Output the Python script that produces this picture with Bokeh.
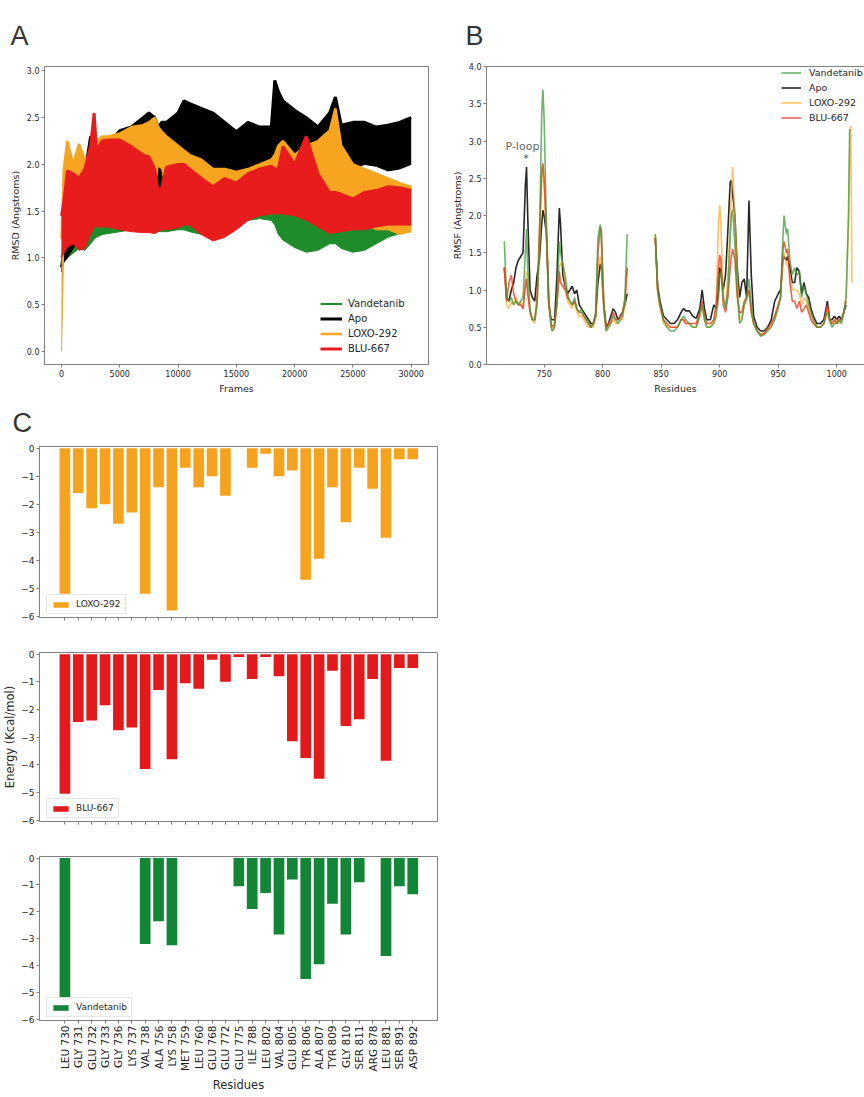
import numpy as np
from bokeh.plotting import figure
from bokeh.models import (Range1d, LinearAxis, FixedTicker, PrintfTickFormatter,
                          Legend, LegendItem, Label)
from bokeh.layouts import column, row
from bokeh.embed import file_html
from bokeh.resources import INLINE

# ---------------- data: panel A (RMSD envelope, min/max per frame window) ----------------
frames = [0, 200, 500, 1000, 1500, 2000, 2500, 2800, 3000, 3500,
          4000, 5000, 6000, 7000, 7500, 8000, 8300, 8600, 9000, 10000,
          10500, 11000, 12000, 13000, 14000, 15000, 16000, 17000, 18000, 18300,
          18600, 19000, 20000, 21000, 22000, 23000, 23500, 24000, 25000, 26000,
          27000, 28000, 29000, 30000]

apo_hi = [0.9, 1.05, 1.15, 1.3, 1.45, 1.9, 2.3, 2.2, 2.2, 2.25,
          2.22, 2.36, 2.4, 2.5, 2.55, 2.5, 2.4, 2.45, 2.45, 2.55,
          2.68, 2.65, 2.6, 2.55, 2.45, 2.35, 2.45, 2.4, 2.4, 2.9,
          2.78, 2.68, 2.58, 2.5, 2.4, 2.55, 2.72, 2.42, 2.45, 2.45,
          2.4, 2.42, 2.45, 2.5]
apo_lo = [0.85, 0.95, 1.0, 1.1, 1.2, 1.3, 1.5, 1.6, 1.7, 1.75,
          1.8, 1.85, 1.9, 1.9, 1.85, 1.75, 1.68, 1.8, 1.95, 2.0,
          2.0, 1.95, 2.0, 1.95, 1.93, 1.93, 1.95, 1.97, 2.0, 2.1,
          2.12, 2.15, 2.1, 2.0, 1.95, 2.0, 2.05, 2.0, 1.95, 2.0,
          1.98, 1.93, 1.95, 2.0]

loxo_hi = [1.2, 1.95, 2.25, 2.0, 2.22, 2.05, 2.1, 2.2, 2.25, 2.3,
           2.3, 2.33, 2.4, 2.42, 2.45, 2.5, 2.4, 2.35, 2.3, 2.2,
           2.15, 2.1, 2.05, 1.95, 1.95, 1.92, 1.95, 2.0, 2.05, 2.1,
           2.2, 2.25, 2.1, 2.2, 2.25, 2.36, 2.6, 2.2, 2.0, 1.95,
           1.9, 1.85, 1.8, 1.76]
loxo_lo = [0.0, 1.15, 1.2, 1.25, 1.3, 1.35, 1.45, 1.5, 1.5, 1.55,
           1.6, 1.6, 1.65, 1.65, 1.65, 1.7, 1.98, 1.95, 1.65, 1.6,
           1.6, 1.55, 1.5, 1.45, 1.45, 1.45, 1.5, 1.55, 1.6, 1.6,
           1.6, 1.55, 1.45, 1.5, 1.55, 1.55, 1.6, 1.5, 1.4, 1.35,
           1.3, 1.3, 1.25, 1.28]

blu_hi = [1.45, 1.6, 1.93, 1.9, 1.85, 1.95, 2.2, 2.55, 2.15, 2.25,
          2.26, 2.26, 2.19, 2.1, 2.08, 1.95, 1.7, 1.75, 1.97, 2.0,
          2.0, 1.95, 1.85, 1.76, 1.85, 1.8, 1.9, 1.95, 1.98, 1.95,
          1.95, 2.19, 2.0, 2.3, 1.9, 1.7, 1.7, 1.68, 1.63, 1.7,
          1.72, 1.76, 1.75, 1.72]
blu_lo = [1.0, 1.05, 1.11, 1.15, 1.08, 1.1, 1.25, 1.33, 1.33, 1.33,
          1.33, 1.3, 1.28, 1.27, 1.27, 1.26, 1.28, 1.3, 1.3, 1.32,
          1.35, 1.35, 1.25, 1.18, 1.22, 1.3, 1.4, 1.45, 1.47, 1.47,
          1.47, 1.47, 1.45, 1.4, 1.33, 1.26, 1.27, 1.28, 1.3, 1.3,
          1.33, 1.35, 1.35, 1.35]

vand_hi = [1.0, 1.15, 1.2, 1.25, 1.3, 1.4, 1.47, 1.48, 1.5, 1.5,
           1.52, 1.55, 1.58, 1.6, 1.6, 1.6, 1.6, 1.6, 1.6, 1.6,
           1.6, 1.6, 1.6, 1.62, 1.65, 1.68, 1.7, 1.7, 1.68, 1.65,
           1.6, 1.55, 1.5, 1.45, 1.45, 1.68, 1.6, 1.55, 1.45, 1.45,
           1.5, 1.55, 1.6, 1.75]
vand_lo = [0.88, 0.95, 1.0, 1.05, 1.1, 1.08, 1.15, 1.2, 1.22, 1.25,
           1.26, 1.28, 1.3, 1.3, 1.3, 1.28, 1.28, 1.28, 1.28, 1.3,
           1.3, 1.28, 1.25, 1.25, 1.28, 1.35, 1.4, 1.42, 1.4, 1.35,
           1.25, 1.19, 1.11, 1.06, 1.08, 1.15, 1.15, 1.1, 1.06, 1.08,
           1.15, 1.22, 1.26, 1.3]

# ---------------- data: panel B (RMSF per residue) ----------------
res1 = [716, 718, 720, 722, 724, 726, 728, 730, 732, 734,
        735, 736, 738, 740, 742, 744, 746, 748, 749, 750,
        752, 754, 756, 757, 759, 761, 763, 764, 766, 768,
        770, 772, 774, 776, 778, 780, 782, 784, 786, 788,
        790, 792, 794, 796, 798, 799, 801, 803, 805, 807,
        809, 811, 813, 815, 817, 819, 821]
res2 = [845, 847, 849, 852, 855, 858, 861, 864, 867, 869,
        871, 874, 877, 880, 883, 885, 887, 889, 892, 895,
        897, 899, 900, 901, 903, 905, 907, 909, 910, 911,
        913, 915, 917, 919, 921, 923, 925, 927, 929, 932,
        935, 938, 941, 944, 947, 950, 952, 954, 955, 957,
        958, 960, 962, 964, 966, 968, 970, 972, 974, 976,
        978, 980, 983, 986, 989, 992, 994, 996, 998, 1000,
        1002, 1004, 1006, 1008, 1010, 1011, 1012, 1013]
nan = float("nan")

vand_rmsf1 = [1.65, 0.9, 0.85, 0.9, 0.8, 0.85, 0.8, 0.85, 0.9, 1.5,
              1.82, 1.3, 0.75, 0.6, 0.6, 0.8, 1.6, 3.4, 3.69, 3.3,
              1.9, 0.9, 0.5, 0.45, 0.5, 0.9, 1.65, 1.5, 1.35, 1.2,
              0.95, 0.85, 0.8, 0.9, 0.75, 0.7, 0.75, 0.65, 0.6, 0.55,
              0.5, 0.55, 0.7, 1.7, 1.88, 1.6, 0.8, 0.45, 0.5, 0.55,
              0.65, 0.6, 0.55, 0.6, 0.65, 0.9, 1.75]
apo_rmsf1 = [1.3, 0.9, 0.85, 1.0, 1.1, 1.3, 1.4, 1.45, 1.5, 2.4,
             2.65, 2.0, 1.0, 0.9, 0.85, 1.2, 1.4, 1.9, 2.07, 2.0,
             1.75, 0.8, 0.6, 0.6, 0.6, 1.2, 2.1, 1.9, 1.2, 1.05,
             0.95, 1.0, 1.05, 0.95, 1.0, 0.8, 0.75, 0.7, 0.65, 0.6,
             0.55, 0.55, 0.65, 1.1, 1.35, 1.3, 0.8, 0.5, 0.55, 0.65,
             0.75, 0.7, 0.6, 0.65, 0.7, 0.8, 0.95]
loxo_rmsf1 = [1.3, 0.8, 0.75, 0.85, 0.8, 0.9, 0.8, 0.85, 0.75, 1.1,
              1.25, 1.0, 0.7, 0.6, 0.55, 0.8, 1.5, 2.5, 2.65, 2.4,
              1.7, 0.8, 0.5, 0.45, 0.5, 0.8, 1.3, 1.35, 1.4, 1.1,
              0.85, 0.8, 0.75, 0.85, 0.7, 0.65, 0.65, 0.6, 0.55, 0.5,
              0.5, 0.5, 0.6, 1.3, 1.45, 1.3, 0.7, 0.45, 0.5, 0.55,
              0.6, 0.55, 0.55, 0.6, 0.6, 0.8, 1.3]
blu_rmsf1 = [1.3, 0.85, 1.1, 1.2, 0.95, 0.85, 0.8, 0.8, 0.75, 1.05,
             1.15, 0.95, 0.7, 0.6, 0.6, 0.9, 1.8, 2.6, 2.7, 2.5,
             1.8, 0.85, 0.55, 0.5, 0.55, 0.8, 1.25, 1.1, 1.05, 1.0,
             0.9, 0.85, 0.8, 0.85, 0.75, 0.7, 0.7, 0.65, 0.6, 0.55,
             0.5, 0.55, 0.65, 1.5, 1.85, 1.8, 0.8, 0.5, 0.55, 0.6,
             0.7, 0.6, 0.6, 0.65, 0.7, 0.85, 1.3]

vand_rmsf2 = [1.75, 1.0, 0.8, 0.6, 0.5, 0.45, 0.45, 0.5, 0.6, 0.65,
              0.6, 0.55, 0.5, 0.5, 0.65, 0.8, 0.6, 0.5, 0.5, 0.55,
              0.65, 0.9, 1.2, 1.25, 0.9, 0.75, 1.0, 1.7, 2.0, 2.08,
              1.6, 1.0, 0.55, 0.6, 0.8, 0.9, 1.15, 0.8, 0.55, 0.45,
              0.38, 0.4, 0.45, 0.5, 0.6, 0.75, 0.9, 1.7, 2.0, 1.75,
              1.82, 1.4, 1.2, 1.3, 1.2, 1.25, 0.9, 1.05, 0.95, 0.8,
              0.7, 0.6, 0.5, 0.5, 0.55, 0.7, 0.6, 0.5, 0.55, 0.55,
              0.6, 0.55, 0.7, 0.9, 2.0, 3.16, nan, nan]
apo_rmsf2 = [1.7, 1.05, 0.85, 0.65, 0.6, 0.55, 0.55, 0.6, 0.7, 0.75,
             0.72, 0.72, 0.65, 0.62, 0.75, 1.0, 0.75, 0.6, 0.6, 0.8,
             0.75, 1.0, 1.3, 1.25, 1.0, 1.2, 1.8, 2.45, 2.47, 2.3,
             2.0, 1.3, 0.9, 1.1, 1.15, 0.9, 2.2, 1.2, 0.65, 0.5,
             0.45, 0.45, 0.5, 0.6, 0.85, 0.95, 1.0, 1.4, 1.45, 1.4,
             1.45, 1.3, 1.1, 1.1, 1.3, 1.25, 0.95, 1.1, 0.95, 0.9,
             0.75, 0.65, 0.55, 0.55, 0.6, 0.85, 0.6, 0.6, 0.65, 0.6,
             0.65, 0.6, 0.7, 0.8, nan, nan, nan, nan]
loxo_rmsf2 = [1.75, 0.95, 0.75, 0.55, 0.5, 0.5, 0.5, 0.5, 0.6, 0.6,
              0.55, 0.55, 0.5, 0.5, 0.65, 0.8, 0.6, 0.5, 0.5, 0.6,
              0.8, 1.9, 2.14, 1.9, 0.9, 0.8, 1.2, 1.9, 2.3, 2.65,
              2.0, 1.2, 0.6, 0.65, 0.8, 0.85, 1.0, 0.7, 0.55, 0.45,
              0.4, 0.42, 0.48, 0.5, 0.65, 0.8, 0.9, 1.4, 1.5, 1.35,
              1.35, 1.2, 1.0, 1.0, 1.0, 0.95, 0.8, 0.9, 0.85, 0.75,
              0.65, 0.6, 0.5, 0.5, 0.55, 0.75, 0.55, 0.55, 0.55, 0.6,
              0.55, 0.6, 0.7, 0.9, 1.8, 2.8, 3.2, 1.1]
blu_rmsf2 = [1.7, 1.0, 0.8, 0.6, 0.55, 0.5, 0.5, 0.5, 0.6, 0.6,
             0.55, 0.55, 0.55, 0.55, 0.7, 0.85, 0.65, 0.55, 0.55, 0.6,
             0.8, 1.3, 1.47, 1.4, 0.8, 0.7, 0.9, 1.3, 1.45, 1.55,
             1.4, 0.9, 0.7, 0.7, 0.85, 0.9, 1.0, 0.7, 0.55, 0.45,
             0.4, 0.42, 0.48, 0.55, 0.65, 0.8, 0.9, 1.55, 1.65, 1.5,
             1.55, 1.1, 0.85, 0.85, 0.75, 0.85, 0.7, 0.75, 0.8, 0.7,
             0.6, 0.55, 0.5, 0.5, 0.55, 0.8, 0.6, 0.55, 0.6, 0.55,
             0.6, 0.6, 0.7, 0.85, nan, nan, nan, nan]

# ---------------- data: panel C (per-residue energy decomposition) ----------------
residues = ["LEU 730", "GLY 731", "GLU 732", "GLY 733", "GLY 736", "LYS 737", "VAL 738",
            "ALA 756", "LYS 758", "MET 759", "LEU 760", "GLU 768", "GLU 772", "GLU 775",
            "ILE 788", "LEU 802", "VAL 804", "GLU 805", "TYR 806", "ALA 807", "TYR 809",
            "GLY 810", "SER 811", "ARG 878", "LEU 881", "SER 891", "ASP 892"]
loxo_energy = [-5.2, -1.6, -2.15, -2.0, -2.7, -2.3, -5.2, -1.4, -5.8, -0.7, -1.4, -1.0, -1.7, 0.0,
               -0.7, -0.2, -1.0, -0.8, -4.7, -3.95, -1.4, -2.65, -0.7, -1.45, -3.2, -0.4, -0.4]
blu_energy = [-5.05, -2.45, -2.4, -1.85, -2.75, -2.65, -4.15, -1.3, -3.8, -1.05, -1.25, -0.2, -1.0, -0.1,
              -0.9, -0.1, -0.8, -3.15, -3.75, -4.5, -0.6, -2.6, -2.35, -0.9, -3.85, -0.5, -0.5]
vand_energy = [-5.25, 0.0, 0.0, 0.0, 0.0, 0.0, -3.2, -2.35, -3.25, 0.0, 0.0, 0.0, 0.0, -1.05,
               -1.9, -1.3, -2.85, -0.8, -4.5, -3.95, -1.7, -2.85, -0.9, 0.0, -3.65, -1.05, -1.35]

# ---------------- styling helpers ----------------
FONT = "DejaVu Sans"
SPINE = "#7f7f7f"
TXT = "#262626"
LETTER_FONT = "Liberation Sans"


def style(p, tick_size="8px", label_size="9.5px"):
    p.outline_line_color = SPINE
    p.xgrid.visible = False
    p.ygrid.visible = False
    p.background_fill_color = "white"
    p.border_fill_color = "white"
    for ax in p.axis:
        ax.axis_line_color = SPINE
        ax.major_tick_line_color = SPINE
        ax.minor_tick_line_color = None
        ax.major_tick_in = 0
        ax.major_tick_out = 3
        ax.major_label_standoff = 2
        ax.axis_label_standoff = 3
        ax.major_label_text_font = FONT
        ax.major_label_text_font_size = tick_size
        ax.major_label_text_color = TXT
        ax.axis_label_text_font = FONT
        ax.axis_label_text_font_size = label_size
        ax.axis_label_text_font_style = "normal"
        ax.axis_label_text_color = TXT


def letter(p, text, offset, standoff):
    p.title.text = text
    p.title.text_font = LETTER_FONT
    p.title.text_font_size = "27px"
    p.title.text_font_style = "normal"
    p.title.text_color = "#333333"
    p.title.align = "left"
    p.title.vertical_align = "top"
    p.title.offset = offset
    p.title.standoff = standoff


# ---------------- Panel A ----------------
xa0, xa1 = -1458, 31484
ya0, ya1 = -0.142, 3.048
pA = figure(width=448, height=400, x_range=Range1d(xa0, xa1), y_range=Range1d(ya0, ya1),
            output_backend="svg", toolbar_location=None,
            min_border_left=44, min_border_right=20, min_border_top=66, min_border_bottom=36)
style(pA)
pA.xaxis.ticker = FixedTicker(ticks=[0, 5000, 10000, 15000, 20000, 25000, 30000])
pA.yaxis.ticker = FixedTicker(ticks=[0, 0.5, 1.0, 1.5, 2.0, 2.5, 3.0])
pA.yaxis.formatter = PrintfTickFormatter(format="%.1f")
pA.xaxis.axis_label = "Frames"
pA.yaxis.axis_label = "RMSD (Angstroms)"

colA = {"Vandetanib": "#1e8c2b", "Apo": "#000000", "LOXO-292": "#f7a521", "BLU-667": "#e81c1c"}
bandsA = [("Vandetanib", vand_lo, vand_hi, 2),
          ("Apo", apo_lo, apo_hi, 3),
          ("LOXO-292", loxo_lo, loxo_hi, 2.5),
          ("BLU-667", blu_lo, blu_hi, 3)]
legA_items = []
for name, lo, hi, lw in bandsA:
    pA.varea(x=frames, y1=lo, y2=hi, fill_color=colA[name])
    pA.line(x=frames, y=lo, line_color=colA[name], line_width=1)
    edge = pA.line(x=frames, y=hi, line_color=colA[name], line_width=lw)
    legA_items.append(LegendItem(label=name, renderers=[edge]))
legA = Legend(items=legA_items, location=(276, 8), border_line_color=None,
              background_fill_alpha=0, label_text_font=FONT, label_text_font_size="10px",
              label_text_color=TXT, glyph_width=22, glyph_height=15, label_height=15,
              spacing=0, padding=0, margin=0, label_standoff=6)
pA.add_layout(legA)
letter(pA, "A", -34, 27)

# ---------------- Panel B ----------------
xb0 = 700.8
xb1 = 1023.7
pB = figure(width=416, height=400, x_range=Range1d(xb0, xb1), y_range=Range1d(0, 4),
            output_backend="svg", toolbar_location=None,
            min_border_left=35, min_border_right=0, min_border_top=66, min_border_bottom=33)
style(pB)
pB.outline_line_color = None
pB.xaxis.ticker = FixedTicker(ticks=[750, 800, 850, 900, 950, 1000])
pB.yaxis.ticker = FixedTicker(ticks=[0, 0.5, 1.0, 1.5, 2.0, 2.5, 3.0, 3.5, 4.0])
pB.yaxis.formatter = PrintfTickFormatter(format="%.1f")
pB.xaxis.axis_label = "Residues"
pB.yaxis.axis_label = "RMSF (Angstroms)"
top_spine = LinearAxis(ticker=FixedTicker(ticks=[]), axis_line_color=SPINE,
                       major_tick_line_color=None, minor_tick_line_color=None,
                       major_tick_out=0, major_tick_in=0, major_label_standoff=0,
                       axis_label_standoff=0)
pB.add_layout(top_spine, "above")

res_all = res1 + [nan] + res2
seriesB = [("Apo", apo_rmsf1, apo_rmsf2, "#111111", 0.9),
           ("LOXO-292", loxo_rmsf1, loxo_rmsf2, "#ffa726", 0.7),
           ("BLU-667", blu_rmsf1, blu_rmsf2, "#ec3b1e", 0.8),
           ("Vandetanib", vand_rmsf1, vand_rmsf2, "#3f9a3a", 0.75)]
rendB = {}
for name, s1, s2, c, a in seriesB:
    rendB[name] = pB.line(x=res_all, y=s1 + [nan] + s2, line_color=c, line_alpha=a, line_width=1.6)
legB = Legend(items=[LegendItem(label=n, renderers=[rendB[n]])
                     for n in ["Vandetanib", "Apo", "LOXO-292", "BLU-667"]],
              location=(295, 239), border_line_color=None, background_fill_alpha=0,
              label_text_font=FONT, label_text_font_size="9.5px", label_text_color=TXT,
              glyph_width=20, glyph_height=15, label_height=15, spacing=0, padding=0,
              margin=0, label_standoff=8)
pB.add_layout(legB)
pB.add_layout(Label(x=731.5, y=2.92, text="P-loop", text_font=FONT, text_font_size="11px",
                    text_color="#666666", text_align="center", text_baseline="middle"))
pB.add_layout(Label(x=734.5, y=2.76, text="*", text_font=FONT, text_font_size="11px",
                    text_color="#555555", text_align="center", text_baseline="middle"))
letter(pB, "B", -21, 28)

# ---------------- Panel C ----------------
xc0, xc1 = -1.9, 27.85
yc0, yc1 = -6.05, 0.06
idx = list(range(len(residues)))
minus = {0: "0", -1: "\u22121", -2: "\u22122", -3: "\u22123", -4: "\u22124", -5: "\u22125", -6: "\u22126"}


def panel_c(values, color, name, height, top, bottom, show_labels, ylabel=None):
    p = figure(width=447, height=height, x_range=Range1d(xc0, xc1), y_range=Range1d(yc0, yc1),
               output_backend="svg", toolbar_location=None,
               min_border_left=37, min_border_right=10, min_border_top=top, min_border_bottom=bottom)
    style(p, tick_size="9px", label_size="11.5px")
    p.yaxis.ticker = FixedTicker(ticks=[0, -1, -2, -3, -4, -5, -6])
    p.yaxis.major_label_overrides = minus
    p.xaxis.ticker = FixedTicker(ticks=idx)
    p.yaxis.axis_label_standoff = 1
    if show_labels:
        p.xaxis.major_label_overrides = {i: r for i, r in enumerate(residues)}
        p.xaxis.major_label_orientation = np.pi / 2
        p.xaxis.major_label_text_font_size = "10.5px"
        p.xaxis.major_label_text_color = "#1a1a1a"
        p.xaxis.axis_label = "Residues"
        p.xaxis.axis_label_standoff = 4
    else:
        p.xaxis.major_label_overrides = {i: "" for i in idx}
        p.xaxis.major_label_standoff = 0
    if ylabel:
        p.yaxis.axis_label = ylabel
    r = p.vbar(x=idx, top=values, bottom=0, width=0.8, fill_color=color, line_color=None)
    leg = Legend(items=[LegendItem(label=name, renderers=[r])], location=(7, 3),
                 border_line_color="#cccccc", background_fill_color="white",
                 background_fill_alpha=0.9, label_text_font=FONT, label_text_font_size="9px",
                 label_text_color=TXT, glyph_width=19, glyph_height=7, label_height=9,
                 spacing=0, padding=4, margin=0, label_standoff=6)
    p.add_layout(leg)
    return p


pC1 = panel_c(loxo_energy, "#f5a31e", "LOXO-292", 230, 46, 13, False)
pC2 = panel_c(blu_energy, "#e31a1c", "BLU-667", 205, 22, 14, False, ylabel="Energy (Kcal/mol)")
pC3 = panel_c(vand_energy, "#138536", "Vandetanib", 260, 21, 68, True)
letter(pC1, "C", -27, 14)

layout = column(row(pA, pB), pC1, pC2, pC3)
open("out.html", "w").write(file_html(layout, INLINE))
